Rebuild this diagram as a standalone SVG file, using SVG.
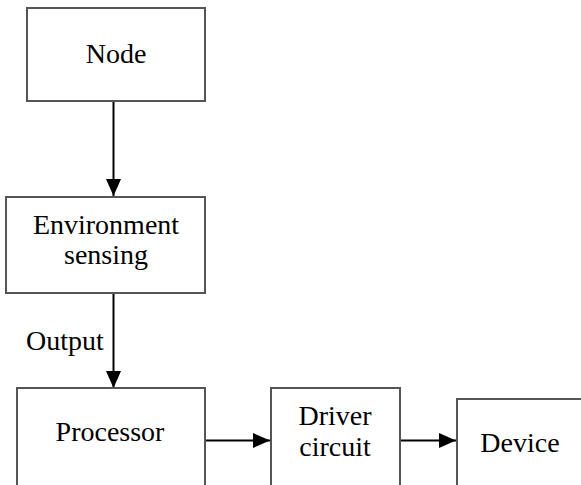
<svg xmlns="http://www.w3.org/2000/svg" width="581" height="485" viewBox="0 0 581 485">
<defs>
<marker id="ah" markerWidth="17" markerHeight="15" refX="17" refY="7.5" orient="auto" markerUnits="userSpaceOnUse">
<path d="M0,0 L17,7.5 L0,15 Z" fill="#000"/>
</marker>
<style>
.box{fill:#fff;stroke:#555;stroke-width:2}
.t{font-family:"Liberation Serif","Times New Roman",serif;font-size:28px;fill:#000;text-anchor:middle}
.c{stroke:#000;stroke-width:2;fill:none;marker-end:url(#ah)}
</style>
</defs>
<rect width="581" height="485" fill="#fff"/>
<g id="connectors">
<line class="c" x1="113.5" y1="101" x2="113.5" y2="196"/>
<line class="c" x1="113.5" y1="293" x2="113.5" y2="388"/>
<line class="c" x1="205" y1="440.5" x2="270" y2="440.5"/>
<line class="c" x1="400" y1="440.5" x2="456" y2="440.5"/>
<text class="t" x="65" y="350">Output</text>
</g>
<g id="node">
<rect class="box" x="27" y="8" width="178" height="93"/>
<text class="t" x="116" y="63">Node</text>
</g>
<g id="env">
<rect class="box" x="6" y="197" width="199" height="96"/>
<text class="t" x="106" y="234">Environment</text>
<text class="t" x="106" y="264">sensing</text>
</g>
<g id="processor">
<rect class="box" x="17" y="388" width="188" height="110"/>
<text class="t" x="110" y="441">Processor</text>
</g>
<g id="driver">
<rect class="box" x="271" y="388" width="129" height="110"/>
<text class="t" x="335" y="425">Driver</text>
<text class="t" x="335" y="456">circuit</text>
</g>
<g id="device">
<rect class="box" x="457" y="399" width="140" height="100"/>
<text class="t" x="520" y="452">Device</text>
</g>
</svg>
